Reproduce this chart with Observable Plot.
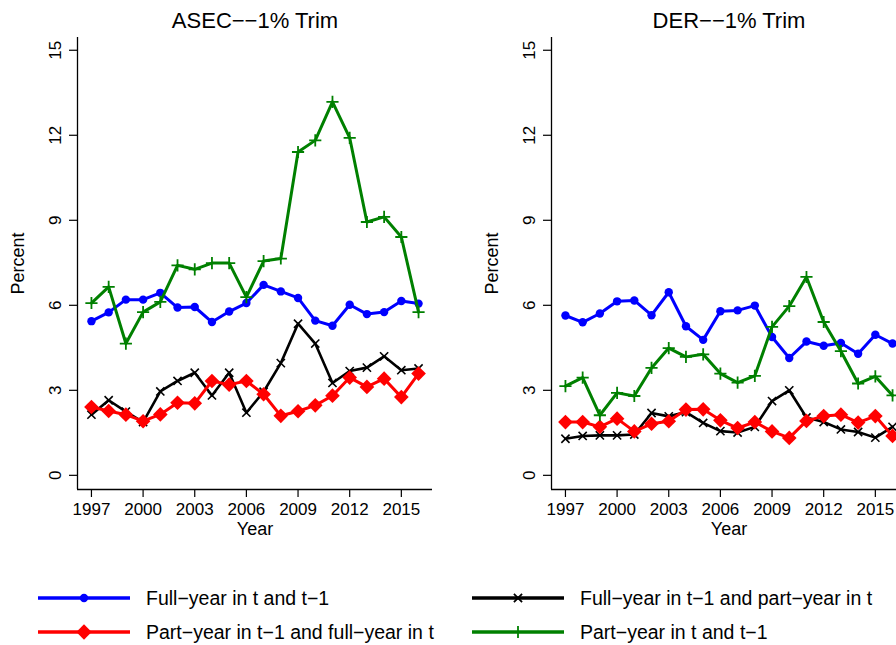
<!DOCTYPE html>
<html>
<head>
<meta charset="utf-8">
<script src="https://cdn.jsdelivr.net/npm/d3@7"></script>
<script src="https://cdn.jsdelivr.net/npm/@observablehq/plot@0.6"></script>
<style>
  html, body { margin: 0; padding: 0; background: #fff; }
  #wrap { position: relative; width: 896px; height: 645px; overflow: hidden; font-family: "Liberation Sans", Arial, sans-serif; }
  .panel { position: absolute; top: 0; }
  #legend { position: absolute; left: 0; top: 570px; }
</style>
</head>
<body>
<div id="wrap"></div>
<script>
// ---- data ----
const years = [1997,1998,1999,2000,2001,2002,2003,2004,2005,2006,2007,2008,2009,2010,2011,2012,2013,2014,2015,2016];
const xTicks = [1997,2000,2003,2006,2009,2012,2015];
const yTicks = [0,3,6,9,12,15];

const seriesNames = [
  "Full\u2212year in t and t\u22121",
  "Full\u2212year in t\u22121 and part\u2212year in t",
  "Part\u2212year in t\u22121 and full\u2212year in t",
  "Part\u2212year in t and t\u22121"
];

// ASEC--1% Trim
const asecFullFull = [5.44,5.75,6.20,6.20,6.44,5.92,5.94,5.41,5.78,6.08,6.72,6.49,6.26,5.46,5.28,6.02,5.69,5.76,6.15,6.06];
const asecFullPart = [2.14,2.65,2.25,1.88,2.96,3.33,3.62,2.82,3.62,2.21,2.95,3.96,5.35,4.65,3.26,3.68,3.80,4.20,3.71,3.77];
const asecPartFull = [2.41,2.27,2.14,1.91,2.15,2.56,2.54,3.33,3.20,3.33,2.86,2.10,2.26,2.47,2.81,3.45,3.12,3.41,2.76,3.59];
const asecPartPart = [6.08,6.65,4.65,5.76,6.12,7.41,7.27,7.49,7.49,6.29,7.56,7.65,11.41,11.82,13.18,11.91,8.94,9.12,8.41,5.76];

// DER--1% Trim
const derFullFull = [5.64,5.40,5.71,6.14,6.17,5.65,6.46,5.26,4.78,5.79,5.82,5.99,4.88,4.14,4.72,4.57,4.67,4.29,4.96,4.65];
const derFullPart = [1.29,1.39,1.41,1.41,1.44,2.20,2.08,2.23,1.85,1.56,1.51,1.71,2.62,3.00,2.04,1.88,1.62,1.53,1.33,1.71];
const derPartFull = [1.88,1.88,1.71,2.00,1.55,1.82,1.91,2.32,2.33,1.94,1.67,1.88,1.55,1.32,1.92,2.09,2.14,1.86,2.09,1.39];
const derPartPart = [3.15,3.45,2.12,2.91,2.80,3.79,4.49,4.18,4.27,3.59,3.27,3.51,5.24,5.97,7.00,5.41,4.38,3.24,3.49,2.82];

const colors = ["#0000ff", "#000000", "#ff0000", "#008000"];

// ---- drawing ----
const FONT = "Liberation Sans, Arial, sans-serif";
const redDiamond = d3.symbolDiamond2;

function rows(arr) { return years.map((y, i) => ({year: y, value: arr[i]})); }

function panel(title, ff, fp, pf, pp) {
  const dFF = rows(ff), dFP = rows(fp), dPF = rows(pf), dPP = rows(pp);
  return Plot.plot({
    width: 440,
    height: 545,
    marginLeft: 77,
    marginRight: 8,
    marginTop: 37,
    marginBottom: 56,
    style: {fontFamily: FONT, fontSize: "17px", color: "#000", background: "transparent", overflow: "visible"},
    x: {domain: [1996.19, 2016.81], axis: null},
    y: {domain: [-0.5, 15.45], axis: null},
    marks: [
      Plot.ruleX([1996.19], {stroke: "#000", strokeWidth: 1.3}),
      Plot.ruleY([-0.5], {stroke: "#000", strokeWidth: 1.3}),
      Plot.axisX({ticks: xTicks, tickSize: 8, tickPadding: 5, tickFormat: d => String(d), fontSize: 17, label: null, stroke: "#000", strokeWidth: 1.2}),
      Plot.axisY({ticks: yTicks, tickSize: 8, tickFormat: () => "", label: null, stroke: "#000", strokeWidth: 1.2}),
      Plot.text(yTicks, {y: d => d, text: d => String(d), frameAnchor: "left", dx: -17, rotate: -90, textAnchor: "middle", lineAnchor: "bottom", fontSize: 17, fill: "#000"}),
      Plot.text(["Year"], {frameAnchor: "bottom", dy: 45, lineAnchor: "bottom", fontSize: 18, fill: "#000"}),
      Plot.text(["Percent"], {frameAnchor: "left", dx: -54, rotate: -90, textAnchor: "middle", lineAnchor: "bottom", fontSize: 18, fill: "#000"}),
      Plot.text([title], {frameAnchor: "top", dy: -10, lineAnchor: "bottom", fontSize: 22, fill: "#000"}),
      // Full-year in t and t-1
      Plot.line(dFF, {x: "year", y: "value", stroke: colors[0], strokeWidth: 3}),
      Plot.dot(dFF, {x: "year", y: "value", fill: colors[0], r: 4.2, symbol: "circle"}),
      // Full-year in t-1 and part-year in t
      Plot.line(dFP, {x: "year", y: "value", stroke: colors[1], strokeWidth: 2.6}),
      Plot.dot(dFP, {x: "year", y: "value", stroke: colors[1], r: 3.8, symbol: "times", strokeWidth: 1.6}),
      // Part-year in t-1 and full-year in t
      Plot.line(dPF, {x: "year", y: "value", stroke: colors[2], strokeWidth: 3}),
      Plot.dot(dPF, {x: "year", y: "value", fill: colors[2], r: 6.6, symbol: redDiamond}),
      // Part-year in t and t-1
      Plot.line(dPP, {x: "year", y: "value", stroke: colors[3], strokeWidth: 3}),
      Plot.dot(dPP, {x: "year", y: "value", stroke: colors[3], r: 4, symbol: "plus", strokeWidth: 1.8})
    ]
  });
}

const wrap = document.getElementById("wrap");
const left = panel("ASEC\u2212\u22121% Trim", asecFullFull, asecFullPart, asecPartFull, asecPartPart);
left.classList.add("panel");
left.style.left = "0px";
wrap.appendChild(left);

const right = panel("DER\u2212\u22121% Trim", derFullFull, derFullPart, derPartFull, derPartPart);
right.classList.add("panel");
right.style.left = "474px";
wrap.appendChild(right);

// ---- legend ----
const legendItems = [
  {name: seriesNames[0], color: colors[0], sym: d3.symbolCircle, size: 55, fill: true, x: 38, y: 28},
  {name: seriesNames[1], color: colors[1], sym: d3.symbolTimes, size: 45, fill: false, x: 472, y: 28},
  {name: seriesNames[2], color: colors[2], sym: d3.symbolDiamond2, size: 150, fill: true, x: 38, y: 62},
  {name: seriesNames[3], color: colors[3], sym: d3.symbolPlus, size: 50, fill: false, x: 472, y: 62}
];
const lsvg = d3.select(wrap).append("svg").attr("id", "legend").attr("width", 896).attr("height", 75)
  .style("font-family", FONT);
for (const it of legendItems) {
  const g = lsvg.append("g").attr("transform", `translate(${it.x},${it.y})`);
  g.append("line").attr("x1", 0).attr("x2", 92).attr("y1", 0).attr("y2", 0)
    .attr("stroke", it.color).attr("stroke-width", 3.4);
  g.append("path").attr("transform", "translate(46,0)")
    .attr("d", d3.symbol(it.sym, it.size)())
    .attr("fill", it.fill ? it.color : "none")
    .attr("stroke", it.fill ? "none" : it.color)
    .attr("stroke-width", 1.8);
  g.append("text").attr("x", 108).attr("y", 0).attr("dy", "0.35em")
    .attr("font-size", 19.5).attr("fill", "#000").text(it.name);
}
</script>
</body>
</html>
